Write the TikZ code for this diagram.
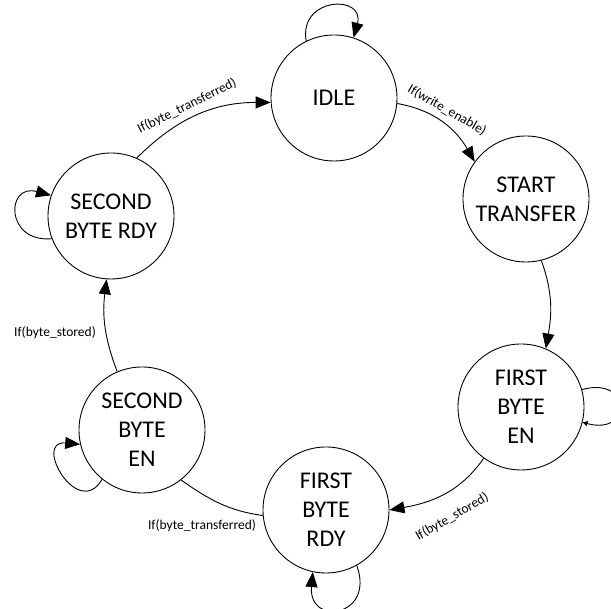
\documentclass[tikz,border=0pt]{standalone}
\usepackage{fontspec}
\setmainfont{Carlito}
\usetikzlibrary{arrows.meta}
\begin{document}
\begin{tikzpicture}[x=1pt,y=1pt,
  state/.style={circle, draw, line width=0.9pt, minimum size=126pt, inner sep=0pt,
    align=center, font=\fontsize{24}{29}\selectfont},
  cond/.style={font=\fontsize{13.5}{16}\selectfont, inner sep=1pt},
  link/.style={line width=0.9pt},
  trans/.style={link, -{Triangle[length=15pt,width=12pt]}},
  tinytrans/.style={link, -{Triangle[length=5pt,width=5pt]}}]
\useasboundingbox (0,0) rectangle (611,609);

% states of the transfer machine
\node[state] (idle)  at (334,511) {IDLE};
\node[state] (start) at (526,410) {START\\TRANSFER};
\node[state] (fbe)   at (521,202) {FIRST\\BYTE\\EN};
\node[state] (fbr)   at (326,99)  {FIRST\\BYTE\\RDY};
\node[state] (sbe)   at (142,179) {SECOND\\BYTE\\EN};
\node[state] (sbr)   at (111,393) {SECOND\\BYTE RDY};

% transitions around the ring
\draw[trans] (idle.-5)   to[out=-10,in=120]  (start.144);
\draw[trans] (start.-76) to[out=-70,in=80]   (fbe.67);
\draw[trans] (fbe.-126)  to[out=-125,in=10]  (fbr.0);
\draw[link]  (fbr.185)   to[out=172,in=-35]  (sbe.-52);
\draw[trans] (sbe.113)   to[out=111,in=-97]  (sbr.-94);
\draw[trans] (sbr.66)    to[out=45,in=180]   (idle.184);

% self loops
\draw[trans]     (idle.116) to[out=100,in=75,distance=45pt]   (idle.72);
\draw[tinytrans] (fbe.16)   to[out=15,in=-15,distance=52pt]   (fbe.-14);
\draw[trans]     (fbr.-61)  to[out=-70,in=-95,distance=55pt]  (fbr.-102);
\draw[trans]     (sbe.-129) to[out=-120,in=175,distance=48pt] (sbe.-167);
\draw[trans]     (sbr.-159) to[out=-175,in=165,distance=47pt] (sbr.161);

% transition conditions
\node[cond, rotate=26]  (c1) at (187,503) {If(byte\_transferred)};
\node[cond, rotate=-30] (c2) at (447,499) {If(write\_enable)};
\node[cond, rotate=30]  (c3) at (452,92)  {If(byte\_stored)};
\node[cond]             (c4) at (202,83)  {If(byte\_transferred)};
\node[cond]             (c5) at (55,276)  {If(byte\_stored)};
\end{tikzpicture}
\end{document}
